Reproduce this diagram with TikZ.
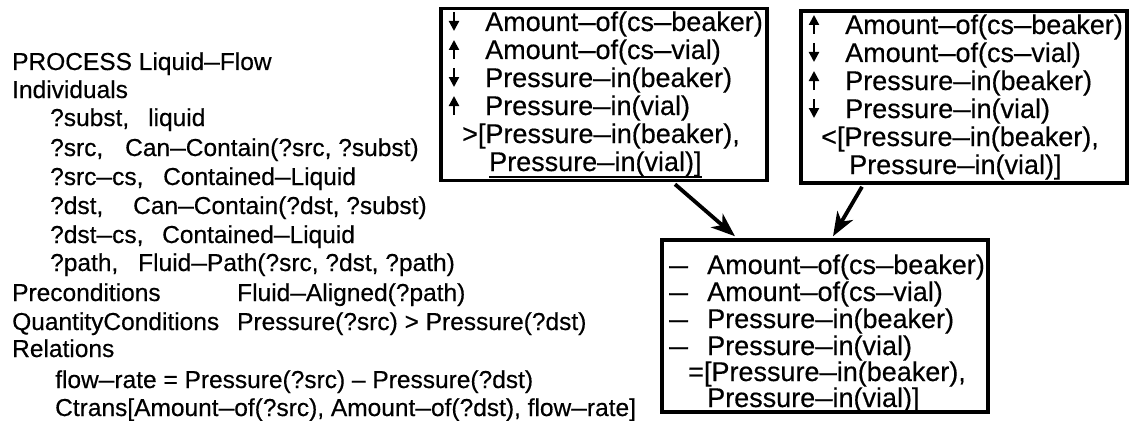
\documentclass[tikz,border=0pt]{standalone}
\usepackage{fontspec}
\setmainfont{Liberation Sans}[FakeBold=0.4]
\usepackage{graphicx}
\usetikzlibrary{arrows.meta}
\newcommand\dsh{\scalebox{1.15}[1]{–}}
\newcommand\bdsh{\scalebox{1.25}[1]{–}}
\begin{document}
\begin{tikzpicture}[x=1pt,y=-1pt,
  lt/.style={anchor=base west, inner sep=0pt, font=\fontsize{24.5}{28}\selectfont},
  bt/.style={anchor=base west, inner sep=0pt, font=\fontsize{27}{28}\selectfont},
  boxr/.style={draw, line width=3.5pt, rectangle, inner sep=0pt, minimum width=326pt, minimum height=172pt},
  glyph/.style={line width=2.2pt, -{Triangle[length=10pt,width=10pt]}},
  flow/.style={line width=3.8pt, -{Stealth[length=24pt,width=18pt,inset=7pt]}}]
\useasboundingbox (0,0) rectangle (1131,420);
\fill[white] (0,0) rectangle (1131,420);

% left column text
\node[lt] (t1) at (12,70) {PROCESS Liquid\dsh Flow};
\node[lt] (t2) at (12,98) {Individuals};
\node[lt] (t3) at (50,126) {\makebox[98pt][l]{?subst,}liquid};
\node[lt] (t4) at (50,156) {\makebox[75pt][l]{?src,}Can\dsh Contain(?src, ?subst)};
\node[lt] (t5) at (50,185) {\makebox[113pt][l]{?src\dsh cs,}Contained\dsh Liquid};
\node[lt] (t6) at (50,214) {\makebox[83pt][l]{?dst,}Can\dsh Contain(?dst, ?subst)};
\node[lt] (t7) at (50,243) {\makebox[112pt][l]{?dst\dsh cs,}Contained\dsh Liquid};
\node[lt] (t8) at (50,271) {\makebox[88pt][l]{?path,}Fluid\dsh Path(?src, ?dst, ?path)};
\node[lt] (t9) at (12,301) {\makebox[225pt][l]{Preconditions}Fluid\dsh Aligned(?path)};
\node[lt] (t10) at (12,330) {\makebox[225pt][l]{QuantityConditions}Pressure(?src) > Pressure(?dst)};
\node[lt] (t11) at (12,357) {Relations};
\node[lt] (t12) at (55,388) {flow\dsh rate = Pressure(?src) – Pressure(?dst)};
\node[lt] (t13) at (55,416) {Ctrans[Amount\dsh of(?src), Amount\dsh of(?dst), flow\dsh rate]};

% boxes
\node[boxr] (b1) at (604,94.5) {};
\node[boxr] (b2) at (964,97) {};
\node[boxr] (b3) at (825,326) {};

% box 1 text
\node[bt] (a1) at (485,31) {Amount\dsh of(cs\dsh beaker)};
\node[bt] (a2) at (485,59) {Amount\dsh of(cs\dsh vial)};
\node[bt] (a3) at (485,87) {Pressure\dsh in(beaker)};
\node[bt] (a4) at (485,115) {Pressure\dsh in(vial)};
\node[bt] (a5) at (462,143) {>[Pressure\dsh in(beaker),};
\node[bt] (a6) at (489,171) {Pressure\dsh in(vial)]};
\draw[line width=1.4pt] (a6.south west) -- (a6.south east);
\draw[glyph] ([shift={(-31,-19)}]a1.base west) -- ++(0,19);
\draw[glyph] ([shift={(-31,0)}]a2.base west) -- ++(0,-19);
\draw[glyph] ([shift={(-31,-19)}]a3.base west) -- ++(0,19);
\draw[glyph] ([shift={(-31,0)}]a4.base west) -- ++(0,-19);

% box 2 text
\node[bt] (c1) at (845,34) {Amount\dsh of(cs\dsh beaker)};
\node[bt] (c2) at (845,62) {Amount\dsh of(cs\dsh vial)};
\node[bt] (c3) at (845,90) {Pressure\dsh in(beaker)};
\node[bt] (c4) at (845,118) {Pressure\dsh in(vial)};
\node[bt] (c5) at (821,146) {<[Pressure\dsh in(beaker),};
\node[bt] (c6) at (849,174) {Pressure\dsh in(vial)]};
\draw[glyph] ([shift={(-31,0)}]c1.base west) -- ++(0,-19);
\draw[glyph] ([shift={(-31,-19)}]c2.base west) -- ++(0,19);
\draw[glyph] ([shift={(-31,0)}]c3.base west) -- ++(0,-19);
\draw[glyph] ([shift={(-31,-19)}]c4.base west) -- ++(0,19);

% box 3 text
\node[bt] (d1) at (669,274) {\makebox[38pt][l]{\bdsh}Amount\dsh of(cs\dsh beaker)};
\node[bt] (d2) at (669,301) {\makebox[38pt][l]{\bdsh}Amount\dsh of(cs\dsh vial)};
\node[bt] (d3) at (669,328) {\makebox[38pt][l]{\bdsh}Pressure\dsh in(beaker)};
\node[bt] (d4) at (669,355) {\makebox[38pt][l]{\bdsh}Pressure\dsh in(vial)};
\node[bt] (d5) at (688,381) {=[Pressure\dsh in(beaker),};
\node[bt] (d6) at (707,407) {Pressure\dsh in(vial)]};

% connectors
\draw[flow] ([shift={(71,2)}]b1.south) -- ([shift={(-90,-2)}]b3.north);
\draw[flow] ([shift={(-102,2)}]b2.south) -- ([shift={(8,-2)}]b3.north);
\end{tikzpicture}
\end{document}
